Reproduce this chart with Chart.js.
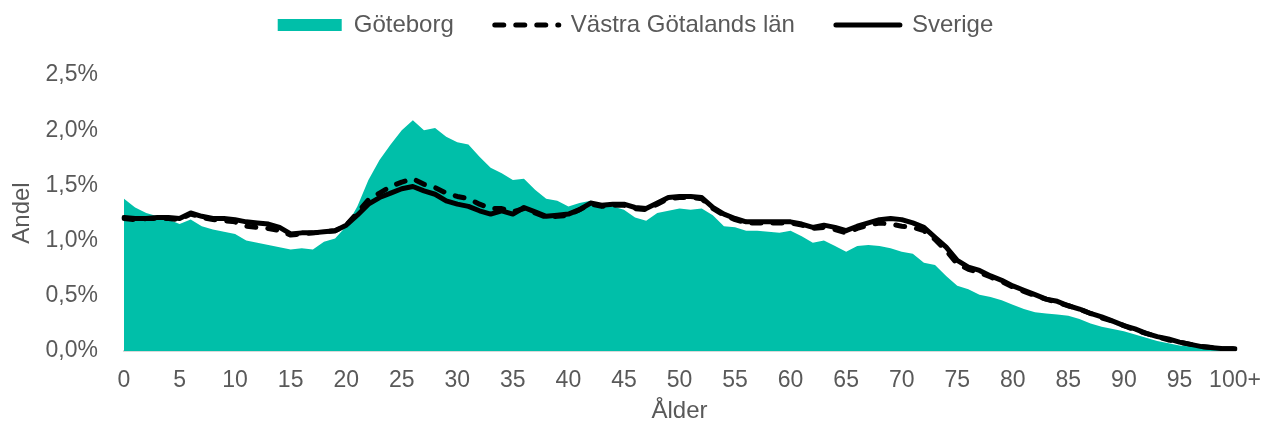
<!DOCTYPE html>
<html lang="sv">
<head>
<meta charset="utf-8">
<title>Andel per ålder</title>
<script src="https://cdn.jsdelivr.net/npm/chart.js@4.4.1/dist/chart.umd.min.js"></script>
<style>
    html, body { margin: 0; padding: 0; background: #fff; }
    #wrap { width: 1261px; height: 423px; }
</style>
</head>
<body>
<div id="wrap"><canvas id="chart"></canvas></div>
<script>
// Andel (%) av befolkningen per ettårsklass, 0 till 100+
const goteborg = [
    1.38, 1.30, 1.25, 1.22, 1.19, 1.15, 1.19, 1.13, 1.10, 1.08,
    1.06, 1.00, 0.98, 0.96, 0.94, 0.92, 0.93, 0.92, 0.99, 1.02,
    1.13, 1.31, 1.55, 1.73, 1.87, 2.00, 2.09, 2.00, 2.02, 1.94,
    1.89, 1.87, 1.76, 1.66, 1.61, 1.55, 1.56, 1.46, 1.38, 1.36,
    1.31, 1.34, 1.36, 1.33, 1.31, 1.28, 1.21, 1.18, 1.25, 1.27,
    1.29, 1.28, 1.29, 1.23, 1.13, 1.12, 1.09, 1.09, 1.08, 1.07,
    1.09, 1.04, 0.98, 1.00, 0.95, 0.90, 0.95, 0.96, 0.95, 0.93,
    0.90, 0.88, 0.80, 0.78, 0.68, 0.59, 0.56, 0.51, 0.49, 0.46,
    0.42, 0.38, 0.35, 0.34, 0.33, 0.32, 0.29, 0.25, 0.22, 0.20,
    0.18, 0.15, 0.12, 0.09, 0.07, 0.05, 0.04, 0.03, 0.02, 0.01,
    0.01
];

const vastraGotaland = [
    1.20, 1.19, 1.20, 1.20, 1.20, 1.19, 1.24, 1.21, 1.19, 1.18,
    1.17, 1.13, 1.12, 1.11, 1.09, 1.05, 1.06, 1.07, 1.08, 1.09,
    1.14, 1.25, 1.37, 1.43, 1.49, 1.53, 1.56, 1.51, 1.48, 1.43,
    1.40, 1.38, 1.33, 1.29, 1.29, 1.26, 1.29, 1.25, 1.21, 1.22,
    1.23, 1.28, 1.33, 1.31, 1.32, 1.32, 1.29, 1.28, 1.33, 1.38,
    1.39, 1.39, 1.38, 1.29, 1.23, 1.19, 1.16, 1.16, 1.16, 1.16,
    1.16, 1.14, 1.11, 1.12, 1.10, 1.07, 1.11, 1.14, 1.16, 1.15,
    1.13, 1.12, 1.09, 1.01, 0.91, 0.79, 0.74, 0.71, 0.67, 0.63,
    0.58, 0.54, 0.50, 0.47, 0.44, 0.41, 0.38, 0.34, 0.30, 0.27,
    0.23, 0.19, 0.16, 0.13, 0.10, 0.08, 0.06, 0.04, 0.03, 0.02,
    0.02
];

const sverige = [
    1.21, 1.20, 1.20, 1.21, 1.21, 1.20, 1.25, 1.22, 1.20, 1.20,
    1.19, 1.17, 1.16, 1.15, 1.12, 1.06, 1.07, 1.07, 1.08, 1.09,
    1.14, 1.23, 1.33, 1.39, 1.43, 1.47, 1.49, 1.45, 1.42, 1.36,
    1.33, 1.31, 1.27, 1.24, 1.27, 1.24, 1.30, 1.26, 1.22, 1.23,
    1.24, 1.28, 1.34, 1.32, 1.33, 1.33, 1.30, 1.29, 1.34, 1.39,
    1.40, 1.40, 1.39, 1.30, 1.24, 1.20, 1.17, 1.17, 1.17, 1.17,
    1.17, 1.15, 1.12, 1.14, 1.12, 1.09, 1.13, 1.16, 1.19, 1.20,
    1.19, 1.16, 1.12, 1.03, 0.94, 0.82, 0.76, 0.73, 0.68, 0.64,
    0.59, 0.55, 0.51, 0.47, 0.45, 0.41, 0.38, 0.34, 0.31, 0.27,
    0.23, 0.20, 0.16, 0.13, 0.11, 0.08, 0.06, 0.04, 0.03, 0.02,
    0.02
];

// Ålder 0-99 plus sista klassen 100+
const ages = [];
for (let i = 0; i < 100; i++) ages.push(String(i));
ages.push('100+');

const yTicks = [0, 0.5, 1.0, 1.5, 2.0, 2.5];

const fontFamily = '"Liberation Sans", Arial, sans-serif';
const textColor = '#595959';
const teal = '#00bfa9';
const dashPattern = [9, 12];

// Extra space under the legend
const legendSpacer = {
    id: 'legendSpacer',
    beforeInit(chart) {
        const origFit = chart.legend.fit;
        chart.legend.fit = function fit() {
            origFit.bind(chart.legend)();
            this.height += 28;
        };
    }
};

const ctx = document.getElementById('chart').getContext('2d');

new Chart(ctx, {
    type: 'line',
    data: {
        labels: ages,
        datasets: [{
            label: 'Göteborg',
            data: goteborg,
            backgroundColor: teal,
            borderColor: teal,
            borderWidth: 0,
            fill: 'origin',
            pointRadius: 0,
            pointStyle: 'rect',
            order: 2
        }, {
            label: 'Västra Götalands län',
            data: vastraGotaland,
            borderColor: '#000',
            backgroundColor: '#000',
            borderWidth: 5,
            borderDash: dashPattern,
            borderCapStyle: 'round',
            borderJoinStyle: 'round',
            fill: false,
            pointRadius: 0,
            pointStyle: 'line',
            order: 1
        }, {
            label: 'Sverige',
            data: sverige,
            borderColor: '#000',
            backgroundColor: '#000',
            borderWidth: 5,
            borderCapStyle: 'round',
            borderJoinStyle: 'round',
            fill: false,
            pointRadius: 0,
            pointStyle: 'line',
            order: 0
        }]
    },
    options: {
        responsive: true,
        maintainAspectRatio: false,
        animation: false,
        layout: {
            padding: { top: -28, left: 10, right: 0, bottom: 0 }
        },
        plugins: {
            legend: {
                position: 'top',
                labels: {
                    usePointStyle: true,
                    pointStyleWidth: 64,
                    boxHeight: 12,
                    padding: 41,
                    color: textColor,
                    font: { family: fontFamily, size: 24 },
                    sort: (a, b) => a.datasetIndex - b.datasetIndex,
                    generateLabels: function(chart) {
                        const items = Chart.defaults.plugins.legend.labels.generateLabels(chart);
                        items.forEach(item => {
                            const ds = chart.data.datasets[item.datasetIndex];
                            item.lineDash = ds.borderDash || [];
                            item.lineCap = ds.borderCapStyle || 'butt';
                        });
                        return items;
                    }
                }
            },
            tooltip: { enabled: false }
        },
        scales: {
            x: {
                type: 'category',
                offset: false,
                grid: { display: false, drawTicks: false },
                border: { display: true, color: '#d9d9d9', width: 2 },
                afterFit: function(scale) {
                    scale.height = 72;
                    scale.paddingLeft = 0;
                    scale.paddingRight = 26;
                },
                ticks: {
                    autoSkip: false,
                    maxRotation: 0,
                    minRotation: 0,
                    padding: 18,
                    color: textColor,
                    font: { family: fontFamily, size: 23, lineHeight: 1 },
                    callback: function(value, index) {
                        return index % 5 === 0 ? ages[index] : null;
                    }
                },
                title: {
                    display: true,
                    text: 'Ålder',
                    color: textColor,
                    font: { family: fontFamily, size: 24, lineHeight: 1 },
                    padding: { top: 2, bottom: 0 }
                }
            },
            y: {
                min: 0,
                max: 2.5,
                afterBuildTicks: function(scale) {
                    scale.ticks = yTicks.map(v => ({ value: v }));
                },
                afterFit: function(scale) {
                    scale.width = 114;
                },
                grid: { display: false, drawTicks: false },
                border: { display: false },
                ticks: {
                    padding: 26,
                    color: textColor,
                    font: { family: fontFamily, size: 23, lineHeight: 1 },
                    callback: function(value) {
                        return value.toFixed(1).replace('.', ',') + '%';
                    }
                },
                title: {
                    display: true,
                    text: 'Andel',
                    color: textColor,
                    font: { family: fontFamily, size: 24, lineHeight: 1 },
                    padding: { top: 0, bottom: 11 }
                }
            }
        }
    },
    plugins: [legendSpacer]
});
</script>
</body>
</html>
